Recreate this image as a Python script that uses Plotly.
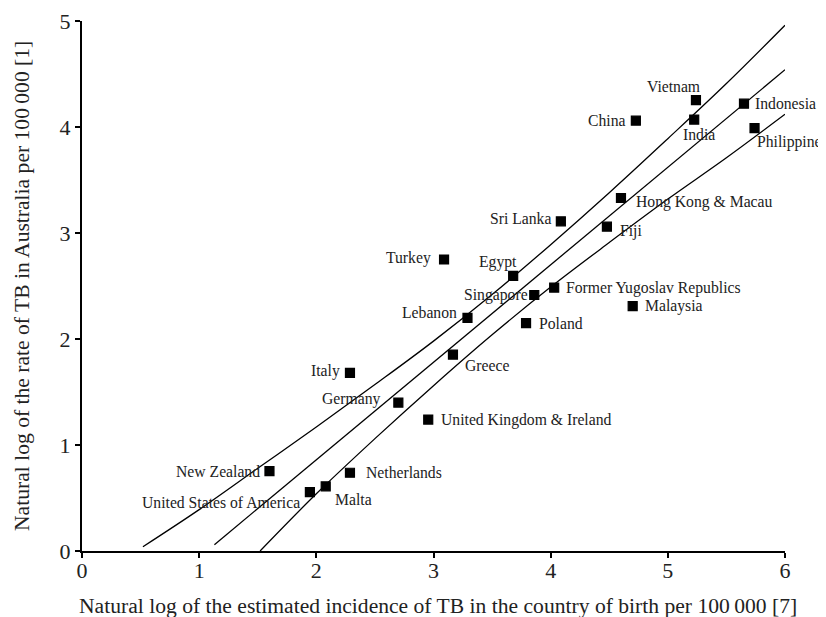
import plotly.graph_objects as go

# ---- data ----
countries = ["Vietnam", "India", "China", "Indonesia", "Philippines",
             "Hong Kong & Macau", "Sri Lanka", "Fiji", "Turkey", "Egypt",
             "Singapore", "Former Yugoslav Republics", "Malaysia", "Lebanon",
             "Poland", "Greece", "Italy", "Germany", "United Kingdom & Ireland",
             "New Zealand", "Netherlands", "United States of America", "Malta"]
incidence_ln = [5.24, 5.225, 4.727, 5.65, 5.74,
                4.60, 4.087, 4.48, 3.09, 3.68,
                3.86, 4.03, 4.70, 3.29,
                3.79, 3.166, 2.287, 2.70, 2.955,
                1.60, 2.287, 1.945, 2.08]
australia_ln = [4.254, 4.07, 4.06, 4.22, 3.99,
                3.33, 3.11, 3.06, 2.75, 2.595,
                2.415, 2.485, 2.31, 2.20,
                2.15, 1.853, 1.68, 1.40, 1.24,
                0.754, 0.738, 0.555, 0.61]

fit_x = [1.13, 6.0]
fit_y = [0.06, 4.54]
upper_x = [0.52, 1.0, 1.5, 2.0, 2.5, 3.0, 3.5, 4.0, 4.5, 5.0, 5.5, 6.0]
upper_y = [0.04, 0.39, 0.78, 1.17, 1.57, 1.98, 2.42, 2.89, 3.38, 3.89, 4.41, 4.96]
lower_x = [1.52, 2.0, 2.5, 3.0, 3.5, 4.0, 4.5, 5.0, 5.5, 6.0]
lower_y = [0.0, 0.54, 1.06, 1.56, 2.04, 2.49, 2.91, 3.32, 3.71, 4.12]

x_ticks = [0, 1, 2, 3, 4, 5, 6]
y_ticks = [0, 1, 2, 3, 4, 5]
x_title = "Natural log of the estimated incidence of TB in the country of birth per 100\u2009000 [7]"
y_title = "Natural log of the rate of TB in Australia per 100\u2009000 [1]"

# ---- label placement (style, not data): xanchor, yanchor, xshift, yshift ----
placement = {
    "Vietnam": ("center", "middle", -22, 14),
    "India": ("center", "middle", 5, -15),
    "China": ("right", "middle", -8, 0),
    "Indonesia": ("left", "middle", 9, 0),
    "Philippines": ("left", "middle", 0, -14),
    "Hong Kong & Macau": ("left", "middle", 13, -4),
    "Sri Lanka": ("right", "middle", -8, 3),
    "Fiji": ("left", "middle", 11, -4),
    "Turkey": ("right", "middle", -11, 2),
    "Egypt": ("center", "middle", -15, 14),
    "Singapore": ("right", "middle", -4, 0),
    "Former Yugoslav Republics": ("left", "middle", 10, 0),
    "Malaysia": ("left", "middle", 10, 0),
    "Lebanon": ("right", "middle", -8, 5),
    "Poland": ("left", "middle", 11, 0),
    "Greece": ("left", "middle", 10, -11),
    "Italy": ("right", "middle", -8, 2),
    "Germany": ("right", "middle", -15, 4),
    "United Kingdom & Ireland": ("left", "middle", 11, 0),
    "New Zealand": ("right", "middle", -7, 0),
    "Netherlands": ("left", "middle", 14, 0),
    "United States of America": ("right", "middle", -8, -10),
    "Malta": ("left", "middle", 7, -13),
}

SERIF = "Liberation Serif, Times New Roman, serif"
TEXT = "#222222"

fig = go.Figure()
line_style = dict(color="black", width=1.3)
fig.add_trace(go.Scatter(x=upper_x, y=upper_y, mode="lines", line=dict(line_style, shape="spline"),
                         hoverinfo="skip", showlegend=False))
fig.add_trace(go.Scatter(x=fit_x, y=fit_y, mode="lines", line=line_style,
                         hoverinfo="skip", showlegend=False))
fig.add_trace(go.Scatter(x=lower_x, y=lower_y, mode="lines", line=dict(line_style, shape="spline"),
                         hoverinfo="skip", showlegend=False))
fig.add_trace(go.Scatter(x=incidence_ln, y=australia_ln, mode="markers", text=countries,
                         marker=dict(symbol="square", size=9, color="black",
                                     line=dict(color="black", width=1.2)),
                         showlegend=False, cliponaxis=False))

for name, xv, yv in zip(countries, incidence_ln, australia_ln):
    xa, ya, dx, dy = placement[name]
    fig.add_annotation(x=xv, y=yv, text=name, showarrow=False, xanchor=xa, yanchor=ya,
                       xshift=dx, yshift=dy, font=dict(family=SERIF, size=15.7, color=TEXT))

fig.add_annotation(xref="paper", yref="paper", x=0.506, y=0, yshift=-55, text=x_title,
                   showarrow=False, xanchor="center", yanchor="middle",
                   font=dict(family=SERIF, size=21.6, color=TEXT))
fig.add_annotation(xref="paper", yref="paper", x=0, xshift=-60, y=0.5, text=y_title,
                   textangle=-90, showarrow=False, xanchor="center", yanchor="middle",
                   font=dict(family=SERIF, size=21.6, color=TEXT))

axis_common = dict(showline=True, linecolor="black", linewidth=2, ticks="outside",
                   ticklen=5, tickwidth=1.5, tickcolor="black", showgrid=False,
                   zeroline=False, mirror=False,
                   tickfont=dict(family=SERIF, size=22, color=TEXT))
fig.update_xaxes(range=[0, 6], tickvals=x_ticks, ticklabelstandoff=-6, **axis_common)
fig.update_yaxes(range=[0, 5], tickvals=y_ticks, **axis_common)

fig.update_layout(width=818, height=609, margin=dict(l=74, r=41, t=13, b=66, autoexpand=False),
                  plot_bgcolor="white", paper_bgcolor="white",
                  font=dict(family=SERIF, color=TEXT))

fig.write_html("out.html")
